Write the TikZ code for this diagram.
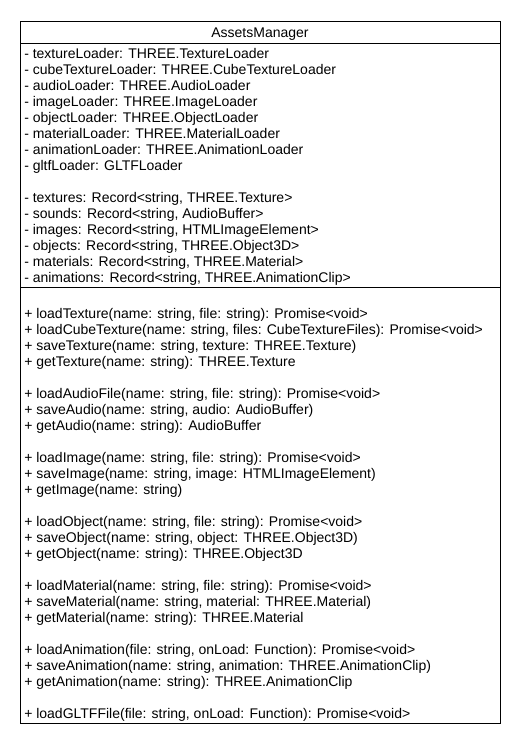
\documentclass[tikz,border=0pt]{standalone}
\usepackage{fontspec}
\setmainfont{Liberation Sans}
\begin{document}
\begin{tikzpicture}[x=0.75pt,y=-0.75pt,
  txt/.style={anchor=base west,inner sep=0pt,font=\fontsize{10.5pt}{12pt}\selectfont},
  ttl/.style={anchor=base,inner sep=0pt,font=\fontsize{10.5pt}{12pt}\selectfont},
  frame/.style={draw=black,line width=0.75pt}]
\useasboundingbox (0,0) rectangle (520,750);
\node[frame,fill=white,minimum width=480*0.75pt,minimum height=702*0.75pt,anchor=north west,inner sep=0pt] (box) at (20,21) {};
\coordinate (h1) at (20,43);
\coordinate (h2) at (500,43);
\coordinate (s1) at (20,287);
\coordinate (s2) at (500,287);
\draw[frame] (h1) -- (h2);
\draw[frame] (s1) -- (s2);
\node[ttl] (title) at (260,37.5) {AssetsManager};
\foreach \i/\t in {0/{- textureLoader: THREE.TextureLoader},
  1/{- cubeTextureLoader: THREE.CubeTextureLoader},
  2/{- audioLoader: THREE.AudioLoader},
  3/{- imageLoader: THREE.ImageLoader},
  4/{- objectLoader: THREE.ObjectLoader},
  5/{- materialLoader: THREE.MaterialLoader},
  6/{- animationLoader: THREE.AnimationLoader},
  7/{- gltfLoader: GLTFLoader},
  9/{- textures: Record<string, THREE.Texture>},
  10/{- sounds: Record<string, AudioBuffer>},
  11/{- images: Record<string, HTMLImageElement>},
  12/{- objects: Record<string, THREE.Object3D>},
  13/{- materials: Record<string, THREE.Material>},
  14/{- animations: Record<string, THREE.AnimationClip>}}
  \node[txt] (a\i) at (24,58+16*\i) {\t};
\foreach \i/\t in {0/{+ loadTexture(name: string, file: string): Promise<void>},
  1/{+ loadCubeTexture(name: string, files: CubeTextureFiles): Promise<void>},
  2/{+ saveTexture(name: string, texture: THREE.Texture)},
  3/{+ getTexture(name: string): THREE.Texture},
  5/{+ loadAudioFile(name: string, file: string): Promise<void>},
  6/{+ saveAudio(name: string, audio: AudioBuffer)},
  7/{+ getAudio(name: string): AudioBuffer},
  9/{+ loadImage(name: string, file: string): Promise<void>},
  10/{+ saveImage(name: string, image: HTMLImageElement)},
  11/{+ getImage(name: string)},
  13/{+ loadObject(name: string, file: string): Promise<void>},
  14/{+ saveObject(name: string, object: THREE.Object3D)},
  15/{+ getObject(name: string): THREE.Object3D},
  17/{+ loadMaterial(name: string, file: string): Promise<void>},
  18/{+ saveMaterial(name: string, material: THREE.Material)},
  19/{+ getMaterial(name: string): THREE.Material},
  21/{+ loadAnimation(file: string, onLoad: Function): Promise<void>},
  22/{+ saveAnimation(name: string, animation: THREE.AnimationClip)},
  23/{+ getAnimation(name: string): THREE.AnimationClip},
  25/{+ loadGLTFFile(file: string, onLoad: Function): Promise<void>}}
  \node[txt] (m\i) at (24,318+16*\i) {\t};
\end{tikzpicture}
\end{document}
